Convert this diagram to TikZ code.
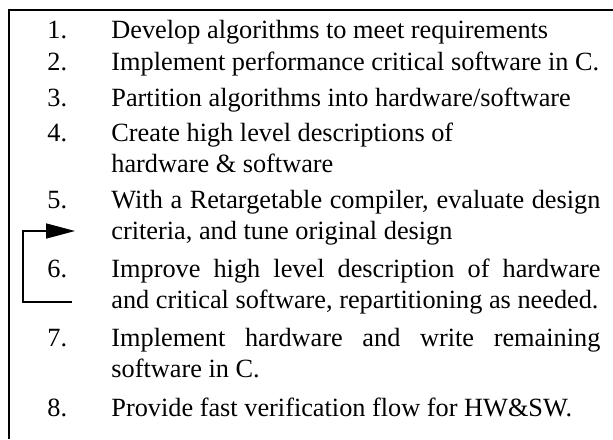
\documentclass[tikz,border=0pt]{standalone}
\usepackage{fontspec}
\setmainfont{Liberation Serif}
\usetikzlibrary{arrows.meta,positioning}

\begin{document}
\begin{tikzpicture}[
    x=0.5pt, y=-0.5pt,
    every node/.style={
        inner sep=0pt,
        anchor=base west,
        font=\fontsize{13.15pt}{15.75pt}\selectfont
    },
    item/.style={
        text width=244.5pt,
        align=justify
    },
    frame/.style={line width=0.75pt},
    feedback/.style={
        line width=0.75pt,
        -{Triangle[length=14.5pt,width=7.5pt]}
    }
]
\useasboundingbox (0,0) rectangle (613,439);
\draw[frame] (9,439) -- (9,10) -- (613,10);

% step numbers
\foreach \n/\y in {1/38,2/70,3/106,4/141,5/208,6/277,7/346,8/416}
    \node (num\n) at (47,\y) {\n.};

% step texts
\node[item] (step1) at (111,38) {Develop algorithms to meet requirements};
\node[item] (step2) at (111,70) {Implement performance critical software in C.};
\node[item] (step3) at (111,106) {Partition algorithms into hardware/software};
\node[item] (step4) at (111,141) {Create high level descriptions of\\hardware \& software};
\node[item] (step5) at (111,208) {With a Retargetable compiler, evaluate design\linebreak criteria, and tune original design};
\node[item] (step6) at (111,277) {Improve high level description of hardware\linebreak and critical software, repartitioning as needed.};
\node[item] (step7) at (111,346) {Implement hardware and write remaining\linebreak software in C.};
\node[item] (step8) at (111,416) {Provide fast verification flow for HW\&SW.};

% loop back from 6 to 5
\coordinate (back6) at (72,302);
\coordinate (back5) at (75,231);
\coordinate (backx) at (23,0);
\draw[feedback] (back6) -- (back6 -| backx) |- (back5);
\end{tikzpicture}
\end{document}
